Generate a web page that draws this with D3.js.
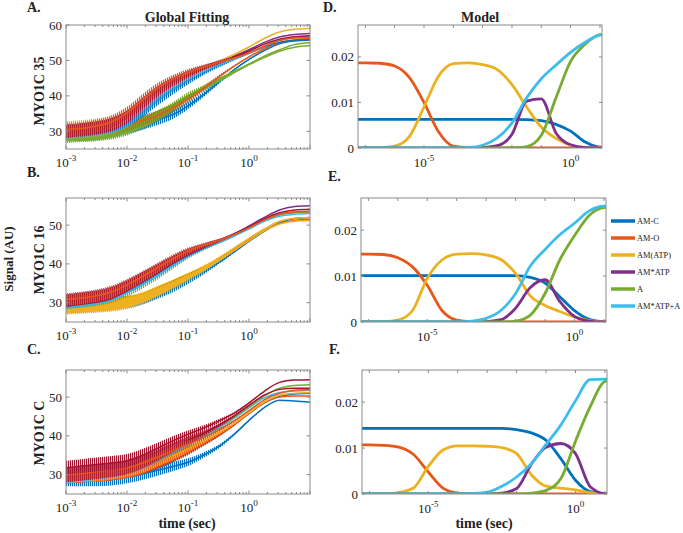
<!DOCTYPE html>
<html><head><meta charset="utf-8">
<script src="https://cdn.jsdelivr.net/npm/d3@7"></script>
<style>
body{margin:0;background:#fff}
text{font-family:"Liberation Serif","Times New Roman",serif;fill:#222}
</style>
</head><body><svg id="c" width="683" height="533"></svg>
<script>
// ---------------- DATA ----------------
// Global fitting panels: sampled at log10(time) exponents
const fitLogTime = [-3,-2.75,-2.5,-2.25,-2,-1.75,-1.5,-1.25,-1,-0.75,-0.5,-0.25,0,0.25,0.5,0.75,1];
const fitXTickExp = [-3,-2,-1,0];
const fitYTicks = [30,40,50,60];

// Panel A : MYO1C 35
const A_blue1   = [30,30,30,30.3,31,32,33.2,34.7,37.2,40.3,43.8,47.3,50.3,52.8,54.7,55.5,55.8];
const A_green2  = [28.5,28.8,29,29.5,30.5,32,34,36.5,39.3,41.8,44.2,46.5,48.8,50.8,52.6,53.7,54.2];
const A_green1  = [29,29,29.3,30,31,32.5,34.5,37,40,42.3,44.6,46.8,49,51.2,53,54.5,55];
const A_orange2 = [30,30,30.3,30.8,31.8,33,34.5,36.5,39,42,45.3,48.3,51,53.3,55,55.8,56.2];
const A_blue2   = [30,30.3,30.8,31.5,33,35.6,38.7,41.6,44.2,46.5,48.5,50.3,52,53.8,55.1,55.7,55.9];
const A_cyan    = [29.5,29.8,30.2,31,32.8,36,39.5,42.5,45,47,48.8,50.3,52,54,55.7,56.5,56.8];
const A_purple  = [30,30.3,30.8,31.8,33.8,37.2,40.8,43.6,45.9,47.8,49.5,51.1,53,55.1,56.6,57.3,57.6];
const A_yellow  = [31,31.3,31.8,32.5,34.3,37.3,40.8,43.5,45.6,47.6,49.6,51.6,53.8,56.2,58,58.8,59];
const A_red     = [30,30.5,31,32,34.2,37.8,41.3,44,46.1,47.9,49.4,50.9,52.6,54.6,56,56.7,57];
const A_orange1 = [30.5,30.8,31.5,32.7,35.2,38.8,42.2,44.7,46.6,48.1,49.4,50.6,52.1,54,55.6,56.3,56.5];
const A_noise   = [1.8,1.8,1.8,1.8,1.7,1.6,1.4,1.2,1.0,0.7,0.5,0.3,0.15,0.05,0,0,0];

// Panel B : MYO1C 16
const B_blue2   = [29.5,29.5,29.5,29.8,30.2,31,32.3,33.8,35.7,37.8,40.3,43,45.8,48.4,50.6,51.7,52];
const B_orange2 = [29,29,29.2,29.5,30,31,32.8,34.7,36.6,38.7,41.1,43.6,46.2,48.6,50.4,51.2,51.5];
const B_yellow2 = [28.8,29,29.3,29.6,30.2,31.3,33,34.8,36.8,39,41.4,44,46.6,49,51,51.8,52];
const B_yellow1 = [28.5,28.7,29,29.3,29.8,30.8,32.5,34.3,36.2,38.3,40.8,43.4,46,48.5,50.3,51,51.2];
const B_blue1   = [30,30.5,31,32,33.8,35.8,38,40.5,42.7,44.3,45.7,47.4,49.3,51.3,52.8,53.3,53.5];
const B_green   = [30,30.3,30.7,31.5,33,35,37.3,39.8,42.2,44,45.5,47.2,49.2,51.2,52.6,53.2,53.4];
const B_cyan    = [30,30.5,31,32,33.8,35.8,38,40.3,42.5,44.2,45.6,47.2,49,51,52.3,52.8,53];
const B_purple  = [30.5,31,31.5,32.5,34.3,36.3,38.5,40.8,42.8,44.4,45.9,47.7,49.8,52,53.9,54.8,55];
const B_red     = [30.5,31,31.5,32.5,34.3,36.5,38.7,41,43,44.6,46,47.6,49.5,51.6,53.2,53.9,54.1];
const B_orange1 = [30.8,31.2,31.8,32.8,34.6,36.7,39,41.3,43.3,44.8,46,47.5,49.3,51.3,52.8,53.4,53.6];
const B_noise   = [1.6,1.6,1.6,1.6,1.5,1.4,1.3,1.1,0.9,0.6,0.4,0.25,0.1,0.05,0,0,0];

// Panel C : MYO1C C
const C_blue2   = [28.8,28.8,28.8,29,29.5,30.2,31.1,32.1,33.2,35,37.2,40.3,44,47.3,49.2,49,48.7];
const C_blue1   = [29.5,29.7,30,30.3,30.8,31.6,32.8,34.3,36,38,40.2,42.8,45.8,48.5,50.2,50.8,51];
const C_orange2 = [29.5,29.8,30,30.3,30.8,31.7,33,34.5,36.3,38.2,40.3,42.8,45.8,48.5,50,50.3,50.3];
const C_yellow  = [29.5,29.8,30,30.5,31,32,33.5,35,36.8,38.7,40.8,43.2,46,48.8,50.5,51,51.2];
const C_cyan    = [29.5,30,30.5,31,31.8,33,34.7,36.6,38.4,40.2,42.2,44.5,47.2,49.8,51.2,51.6,51.8];
const C_green   = [30,30.3,30.8,31.3,32,33.3,35,37,38.8,40.5,42.5,44.8,47.5,50.3,52.3,53,53.2];
const C_red2    = [29.8,30.2,30.6,31.1,31.8,33.2,35,37,38.8,40.6,42.7,45.1,47.9,50.5,52,52.3,52.3];
const C_orange1 = [30,30.3,30.8,31.3,31.8,33,34.5,36.2,37.8,39.5,41.5,43.8,46.5,49.3,51,51.8,52];
const C_red1    = [31.8,32.2,32.6,33,33.6,35,36.8,38.7,40.4,42,43.8,45.8,48.5,51.5,53.8,54.4,54.5];
const C_noise   = [1.8,1.8,1.8,1.8,1.7,1.6,1.4,1.2,1.0,0.7,0.5,0.3,0.15,0.05,0,0,0];

// Model panels: sampled at log10(time) exponents
const modelLogTime = [-7.5,-7,-6.5,-6,-5.5,-5,-4.5,-4,-3.5,-3,-2.5,-2,-1.5,-1,-0.5,0,0.5,1,1.5];
const modelXTickExp = [-7,-6,-5,-4,-3,-2,-1,0,1];
const modelXLabelExp = [-5,0];
const modelYTicks = [0,0.01,0.02];
const speciesNames = ["AM-C","AM-O","AM(ATP)","AM*ATP","A","AM*ATP+A"];

// Panel D (values x 1e-3)
const D_AMC   = [6.3,6.3,6.3,6.3,6.3,6.3,6.3,6.3,6.3,6.3,6.3,6.3,6.25,6.0,5.2,3.7,1.3,0.15,0];
const D_AMO   = [18.7,18.7,18.6,18.0,15.5,10.0,3.5,0.4,0.1,0,0,0,0,0,0,0,0,0,0];
const D_ATP   = [0,0,0.05,0.4,2.5,9.0,15.8,18.5,18.7,18.3,17.2,13.9,9.0,4.6,2.1,0.6,0.1,0,0];
const D_AMATP = [0,0,0,0,0,0,0,0,0,0.1,0.5,3.0,10.3,10.8,3.3,0.7,0.1,0,0];
const D_A     = [0,0,0,0,0,0,0,0,0,0,0,0.05,0.3,2.8,11.0,19.0,22.8,24.9,25.0];
const D_AMATPA= [0,0,0,0,0,0,0,0,0.1,0.6,2.2,5.5,11.0,15.2,18.2,21.0,23.2,24.8,25.0];

// Panel E
const E_AMC   = [10.1,10.1,10.1,10.1,10.1,10.1,10.1,10.1,10.1,10.1,10.1,10.1,9.7,8.5,5.5,2.5,0.6,0.1,0];
const E_AMO   = [14.8,14.8,14.7,14.0,12.0,8.0,2.5,0.4,0.05,0,0,0,0,0,0,0,0,0,0];
const E_ATP   = [0,0,0.05,0.4,2.5,9.5,13.5,14.8,14.9,14.6,13.6,10.6,5.7,3.6,2.3,1.1,0.3,0,0];
const E_AMATP = [0,0,0,0,0,0,0,0,0,0.1,0.5,3.0,7.5,9.2,4.5,1.2,0.2,0,0];
const E_A     = [0,0,0,0,0,0,0,0,0,0,0,0.2,1.5,6.2,13.5,18.8,23.2,24.9,25.1];
const E_AMATPA= [0,0,0,0,0,0,0,0,0.2,0.8,2.5,6.2,12.2,15.8,19.0,21.5,24.2,25.2,25.2];

// Panel F
const F_AMC   = [14.3,14.3,14.3,14.3,14.3,14.3,14.3,14.3,14.3,14.3,14.3,14.0,13.3,11.7,7.7,3.0,0.5,0,0];
const F_AMO   = [10.7,10.7,10.6,10.2,8.6,4.8,1.3,0.2,0,0,0,0,0,0,0,0,0,0,0];
const F_ATP   = [0,0,0.05,0.3,1.3,6.0,9.6,10.5,10.5,10.4,10.1,8.8,4.2,1.7,1.3,0.9,0.3,0,0];
const F_AMATP = [0,0,0,0,0,0,0,0,0,0,0.2,1.2,6.5,10.2,11.0,8.8,1.6,0.1,0];
const F_A     = [0,0,0,0,0,0,0,0,0,0,0,0,0.2,0.8,3.3,11.5,19.0,24.5,25.0];
const F_AMATPA= [0,0,0,0,0,0,0,0,0.1,0.4,1.7,3.7,6.6,10.8,15.0,20.3,24.9,25.0,25.0];

// ---------------- STYLE ----------------
const COL = {blue:"#0072BD", orange:"#E8571A", yellow:"#EDB120", purple:"#7E2F8E",
             green:"#77AC30", cyan:"#3DBDEE", red:"#A2142F"};
const speciesColors = ["blue","orange","yellow","purple","green","cyan"];
const frameCol = "#8a8a8a";

const svg = d3.select("#c");
svg.append("rect").attr("width",683).attr("height",533).attr("fill","#fff");
const defs = svg.append("defs");

// fine vertical striped fills so overlapping noisy traces interleave like raw data
let patId = 0;
function stripe(color, phase) {
  const id = "pat" + (patId++);
  const p = defs.append("pattern").attr("id", id).attr("patternUnits","userSpaceOnUse")
    .attr("width", 2).attr("height", 2).attr("x", phase);
  p.append("rect").attr("x", 0).attr("y", 0).attr("width", 1.2).attr("height", 2).attr("fill", color);
  return "url(#" + id + ")";
}

function supLabel(g, x, y, exp, fs) {
  const t = g.append("text").attr("x", x).attr("y", y).attr("text-anchor","middle")
    .style("font-size", fs + "px");
  t.append("tspan").text("10");
  t.append("tspan").attr("dy", -6).style("font-size", (fs*0.7) + "px").text(exp);
}

let clipId = 0;
function frame(g, box) {
  g.append("rect").attr("x", box.x0).attr("y", box.y0)
    .attr("width", box.x1 - box.x0).attr("height", box.y1 - box.y0)
    .attr("fill","none").attr("stroke", frameCol).attr("stroke-width", 1);
}
function clip(box) {
  const id = "clip" + (clipId++);
  svg.append("clipPath").attr("id", id).append("rect")
    .attr("x", box.x0).attr("y", box.y0).attr("width", box.x1 - box.x0).attr("height", box.y1 - box.y0);
  return "url(#" + id + ")";
}

function fitPanel(box, yDomain, traces, noise) {
  const x = d3.scaleLog().domain([1e-3, 10]).range([box.x0, box.x1]);
  const y = d3.scaleLinear().domain(yDomain).range([box.y1, box.y0]);
  const g = svg.append("g");
  const pg = g.append("g").attr("clip-path", clip(box));
  const times = fitLogTime.map(e => Math.pow(10, e));
  traces.forEach(([c, vals], k) => {
    const pts = vals.map((v, i) => ({t: times[i], v, a: noise[i]}));
    pg.append("path").datum(pts)
      .attr("d", d3.area().x(d => x(d.t)).y0(d => y(d.v - d.a)).y1(d => y(d.v + d.a)).curve(d3.curveMonotoneX))
      .attr("fill", stripe(COL[c], k % 2));
    pg.append("path").datum(pts)
      .attr("d", d3.line().x(d => x(d.t)).y(d => y(d.v)).curve(d3.curveMonotoneX))
      .attr("fill","none").attr("stroke", COL[c]).attr("stroke-width", 1.5);
  });
  frame(g, box);
  for (let e = -3; e <= 1; e++) {
    for (let m = 1; m <= 9; m++) {
      const t = m * Math.pow(10, e);
      if (t > 10.0001) break;
      const px = x(t), len = (m === 1) ? 3.5 : 2;
      g.append("line").attr("x1", px).attr("x2", px).attr("y1", box.y1).attr("y2", box.y1 - len).attr("stroke", frameCol);
      g.append("line").attr("x1", px).attr("x2", px).attr("y1", box.y0).attr("y2", box.y0 + len).attr("stroke", frameCol);
    }
  }
  fitXTickExp.forEach(e => supLabel(g, x(Math.pow(10, e)), box.y1 + 18, e, 13));
  fitYTicks.filter(v => v >= yDomain[0] && v <= yDomain[1]).forEach(v => {
    const py = y(v);
    g.append("line").attr("x1", box.x0).attr("x2", box.x0 + 3.5).attr("y1", py).attr("y2", py).attr("stroke", frameCol);
    g.append("line").attr("x1", box.x1).attr("x2", box.x1 - 3.5).attr("y1", py).attr("y2", py).attr("stroke", frameCol);
    g.append("text").attr("x", box.x0 - 4).attr("y", py).attr("dy","0.35em").attr("text-anchor","end")
      .style("font-size","13px").text(v);
  });
}

function modelPanel(box, series) {
  const x = d3.scaleLog().domain([Math.pow(10, -7.25), Math.pow(10, 1.07)]).range([box.x0, box.x1]);
  const y = d3.scaleLinear().domain([0, 0.027]).range([box.y1, box.y0]);
  const g = svg.append("g");
  const pg = g.append("g").attr("clip-path", clip(box));
  const times = modelLogTime.map(e => Math.pow(10, e));
  series.forEach((vals, k) => {
    const pts = vals.map((v, i) => ({t: times[i], v: v / 1000}));
    pg.append("path").datum(pts)
      .attr("d", d3.line().x(d => x(d.t)).y(d => y(d.v)).curve(d3.curveMonotoneX))
      .attr("fill","none").attr("stroke", COL[speciesColors[k]]).attr("stroke-width", 2.8)
      .attr("stroke-linejoin","round");
  });
  frame(g, box);
  modelXTickExp.forEach(e => {
    const px = x(Math.pow(10, e));
    g.append("line").attr("x1", px).attr("x2", px).attr("y1", box.y1).attr("y2", box.y1 - 3).attr("stroke", frameCol);
    g.append("line").attr("x1", px).attr("x2", px).attr("y1", box.y0).attr("y2", box.y0 + 3).attr("stroke", frameCol);
  });
  modelXLabelExp.forEach(e => supLabel(g, x(Math.pow(10, e)), box.y1 + 19, e, 13));
  modelYTicks.forEach(v => {
    const py = y(v);
    g.append("line").attr("x1", box.x0).attr("x2", box.x0 + 3).attr("y1", py).attr("y2", py).attr("stroke", frameCol);
    g.append("line").attr("x1", box.x1).attr("x2", box.x1 - 3).attr("y1", py).attr("y2", py).attr("stroke", frameCol);
    g.append("text").attr("x", box.x0 - 4).attr("y", py).attr("dy","0.35em").attr("text-anchor","end")
      .style("font-size","13px").text(v === 0 ? "0" : d3.format(".2f")(v));
  });
}

// ---------------- PANELS ----------------
fitPanel({x0:66, x1:310, y0:25, y1:149}, [25, 60],
  [["blue",A_blue1],["green",A_green2],["green",A_green1],["orange",A_orange2],["blue",A_blue2],
   ["cyan",A_cyan],["purple",A_purple],["yellow",A_yellow],["red",A_red],["orange",A_orange1]], A_noise);
fitPanel({x0:66, x1:310, y0:198, y1:322}, [25, 57],
  [["blue",B_blue2],["orange",B_orange2],["yellow",B_yellow2],["yellow",B_yellow1],["blue",B_blue1],
   ["green",B_green],["cyan",B_cyan],["purple",B_purple],["red",B_red],["orange",B_orange1]], B_noise);
fitPanel({x0:66, x1:310, y0:370, y1:494}, [25, 57],
  [["blue",C_blue2],["blue",C_blue1],["orange",C_orange2],["yellow",C_yellow],["cyan",C_cyan],
   ["green",C_green],["red",C_red2],["orange",C_orange1],["red",C_red1]], C_noise);

modelPanel({x0:358, x1:602, y0:25, y1:148}, [D_AMC,D_AMO,D_ATP,D_AMATP,D_A,D_AMATPA]);
modelPanel({x0:361, x1:606, y0:198, y1:322}, [E_AMC,E_AMO,E_ATP,E_AMATP,E_A,E_AMATPA]);
modelPanel({x0:362, x1:607, y0:370, y1:494}, [F_AMC,F_AMO,F_ATP,F_AMATP,F_A,F_AMATPA]);

// Legend
const lg = svg.append("g");
speciesNames.forEach((n, i) => {
  const yy = 221 + i * 17;
  lg.append("line").attr("x1", 611).attr("x2", 635).attr("y1", yy).attr("y2", yy)
    .attr("stroke", COL[speciesColors[i]]).attr("stroke-width", 3.5);
  lg.append("text").attr("x", 637).attr("y", yy).attr("dy","0.35em").style("font-size","8.4px").text(n);
});

// Text
const bold = (x, y, s, fs, anchor, rot) => {
  const t = svg.append("text").attr("x", x).attr("y", y).attr("text-anchor", anchor || "start")
    .style("font-size", fs + "px").style("font-weight","bold").text(s);
  if (rot) t.attr("transform", `rotate(-90,${x},${y})`);
  return t;
};
bold(27, 12, "A.", 14); bold(27, 177, "B.", 14); bold(27, 354, "C.", 14);
bold(323, 12, "D.", 14); bold(328, 181, "E.", 14); bold(329, 354, "F.", 14);
bold(187, 22, "Global Fitting", 14, "middle");
bold(480, 22, "Model", 14, "middle");
bold(44, 91, "MYO1C 35", 14, "middle", true);
bold(44, 260, "MYO1C 16", 14, "middle", true);
bold(44, 433, "MYO1C C", 14, "middle", true);
bold(13, 259, "Signal (AU)", 13, "middle", true);
bold(187, 528, "time (sec)", 14, "middle");
bold(484, 528, "time (sec)", 14, "middle");
</script>
</body></html>
